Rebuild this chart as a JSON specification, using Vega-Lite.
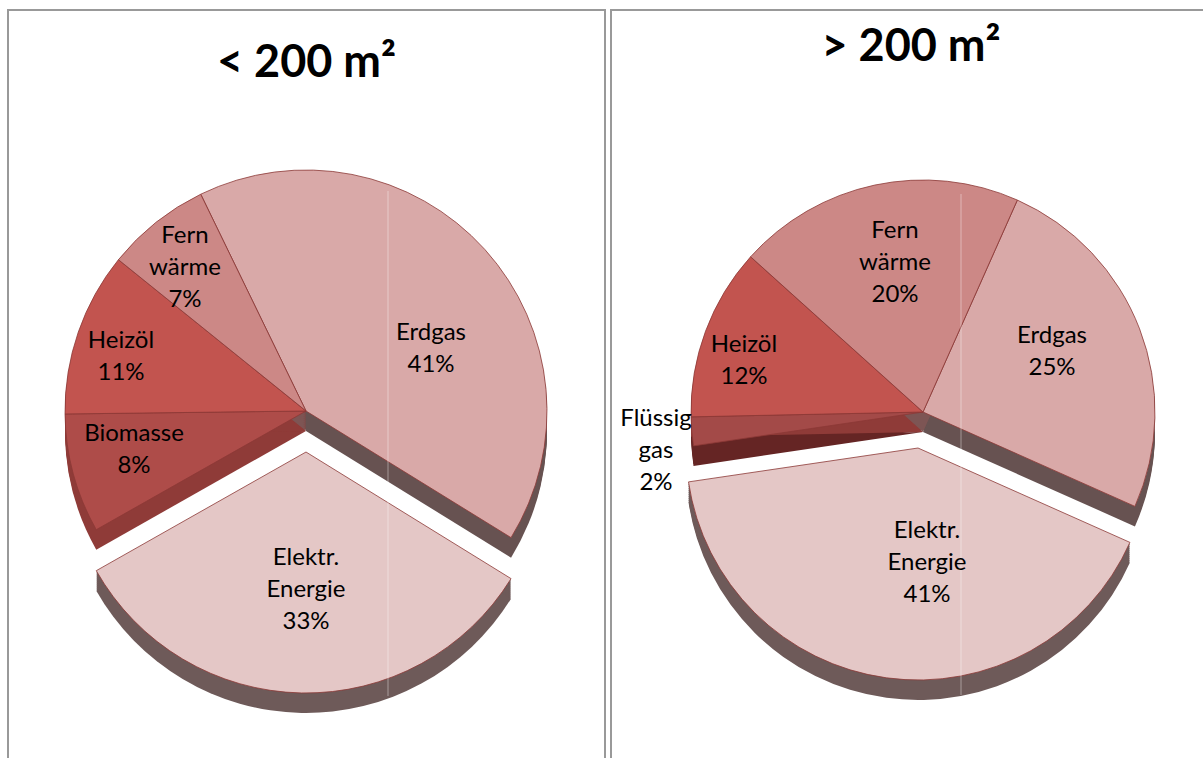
{
  "$schema": "https://vega.github.io/schema/vega-lite/v6.json",
  "padding": {"left": 7, "top": 9, "right": 0, "bottom": 0},
  "background": "white",
  "spacing": 4,
  "config": {"view": {"stroke": "#999999", "strokeWidth": 2}},
  "resolve": {"scale": {"color": "independent", "fill": "independent"}},
  "hconcat": [
    {
      "width": 597,
      "height": 760,
      "title": {"text": "< 200 m²", "font": "Lato", "fontWeight": "bold", "fontSize": 45, "color": "black", "anchor": "middle", "frame": "group", "offset": -76},
      "data": {"values": [
        {"order": 1, "name": "Erdgas", "caption": "Erdgas", "value": 41, "shiftX": 0, "shiftY": 0},
        {"order": 2, "name": "Elektr. Energie", "caption": "Elektr.\nEnergie", "value": 33, "shiftX": 0, "shiftY": 41},
        {"order": 3, "name": "Biomasse", "caption": "Biomasse", "value": 8, "shiftX": 0, "shiftY": 0},
        {"order": 4, "name": "Heizöl", "caption": "Heizöl", "value": 11, "shiftX": 0, "shiftY": 0},
        {"order": 5, "name": "Fernwärme", "caption": "Fern\nwärme", "value": 7, "shiftX": 0, "shiftY": 0}
      ]},
      "transform": [
        {"stack": "value", "sort": [{"field": "order", "order": "ascending"}], "as": ["t0", "t1"]},
        {"calculate": "datum.caption + '\\n' + datum.value + '%'", "as": "labelText"},
        {"calculate": "{'Erdgas': 125, 'Elektr. Energie': 0, 'Biomasse': -172, 'Heizöl': -185, 'Fernwärme': -121}[datum.name]", "as": "labelX"},
        {"calculate": "{'Erdgas': -78, 'Elektr. Energie': 147, 'Biomasse': 23, 'Heizöl': -70, 'Fernwärme': -175}[datum.name]", "as": "labelY"}
      ],
      "layer": [
        {
          "transform": [
            {"filter": "datum.shiftY == 0"},
            {"calculate": "[2, 4, 6, 8, 10, 12, 14, 16, 18, 20]", "as": "wall"},
            {"flatten": ["wall"]},
            {"calculate": "datum.shiftY + datum.wall", "as": "wallY"}
          ],
          "mark": {"type": "arc", "outerRadius": 241, "innerRadius": 0},
          "encoding": {
            "x": {"field": "shiftX", "type": "quantitative", "axis": null, "scale": {"domain": [-298, 299], "nice": false, "zero": false}},
            "y": {"field": "wallY", "type": "quantitative", "axis": null, "scale": {"domain": [-401, 359], "nice": false, "zero": false, "reverse": true}},
            "theta": {"field": "t0", "type": "quantitative", "scale": {"domain": [0, 100], "range": [-0.452, 5.831]}},
            "theta2": {"field": "t1"},
            "color": {"field": "name", "type": "nominal", "legend": null, "scale": {"domain": ["Erdgas", "Elektr. Energie", "Biomasse", "Heizöl", "Fernwärme"], "range": ["#675251", "#6e5a59", "#8f3b38", "#8f3b38", "#7d5554"]}},
            "detail": {"field": "wall", "type": "nominal"}
          }
        },
        {
          "transform": [{"filter": "datum.shiftY == 0"}],
          "mark": {"type": "arc", "outerRadius": 241, "innerRadius": 0, "stroke": "#8c3836", "strokeWidth": 0.8},
          "encoding": {
            "x": {"field": "shiftX", "type": "quantitative"},
            "y": {"field": "shiftY", "type": "quantitative"},
            "theta": {"field": "t0", "type": "quantitative"},
            "theta2": {"field": "t1"},
            "fill": {"field": "name", "type": "nominal", "legend": null, "scale": {"domain": ["Erdgas", "Elektr. Energie", "Biomasse", "Heizöl", "Fernwärme"], "range": ["#d9a9a8", "#e4c7c6", "#ae4c49", "#c2544f", "#cc8886"]}}
          }
        },
        {
          "transform": [
            {"filter": "datum.shiftY != 0"},
            {"calculate": "[2, 4, 6, 8, 10, 12, 14, 16, 18, 20]", "as": "wall"},
            {"flatten": ["wall"]},
            {"calculate": "datum.shiftY + datum.wall", "as": "wallY"}
          ],
          "mark": {"type": "arc", "outerRadius": 241, "innerRadius": 0},
          "encoding": {
            "x": {"field": "shiftX", "type": "quantitative"},
            "y": {"field": "wallY", "type": "quantitative"},
            "theta": {"field": "t0", "type": "quantitative"},
            "theta2": {"field": "t1"},
            "color": {"field": "name", "type": "nominal", "legend": null},
            "detail": {"field": "wall", "type": "nominal"}
          }
        },
        {
          "transform": [{"filter": "datum.shiftY != 0"}],
          "mark": {"type": "arc", "outerRadius": 241, "innerRadius": 0, "stroke": "#8c3836", "strokeWidth": 0.8},
          "encoding": {
            "x": {"field": "shiftX", "type": "quantitative"},
            "y": {"field": "shiftY", "type": "quantitative"},
            "theta": {"field": "t0", "type": "quantitative"},
            "theta2": {"field": "t1"},
            "fill": {"field": "name", "type": "nominal", "legend": null}
          }
        },
        {
          "data": {"values": [{}]},
          "mark": {"type": "rule", "color": "white", "opacity": 0.4, "strokeWidth": 1},
          "encoding": {
            "x": {"datum": 82, "type": "quantitative"},
            "y": {"datum": -220, "type": "quantitative"},
            "y2": {"datum": 285}
          }
        },
        {
          "mark": {"type": "text", "font": "Lato", "fontSize": 24, "lineHeight": 32, "lineBreak": "\n", "color": "black", "align": "center", "baseline": "middle"},
          "encoding": {
            "x": {"field": "labelX", "type": "quantitative"},
            "y": {"field": "labelY", "type": "quantitative"},
            "text": {"field": "labelText", "type": "nominal"}
          }
        }
      ]
    },
    {
      "width": 600,
      "height": 760,
      "title": {"text": "> 200 m²", "font": "Lato", "fontWeight": "bold", "fontSize": 45, "color": "black", "anchor": "middle", "frame": "group", "offset": -60},
      "data": {"values": [
        {"order": 1, "name": "Erdgas", "caption": "Erdgas", "value": 25, "shiftX": 0, "shiftY": 0},
        {"order": 2, "name": "Elektr. Energie", "caption": "Elektr.\nEnergie", "value": 41, "shiftX": -5, "shiftY": 36},
        {"order": 3, "name": "Flüssiggas", "caption": "Flüssig\ngas", "value": 2, "shiftX": 0, "shiftY": 0},
        {"order": 4, "name": "Heizöl", "caption": "Heizöl", "value": 12, "shiftX": 0, "shiftY": 0},
        {"order": 5, "name": "Fernwärme", "caption": "Fern\nwärme", "value": 20, "shiftX": 0, "shiftY": 0}
      ]},
      "transform": [
        {"stack": "value", "sort": [{"field": "order", "order": "ascending"}], "as": ["t0", "t1"]},
        {"calculate": "datum.caption + '\\n' + datum.value + '%'", "as": "labelText"},
        {"calculate": "{'Erdgas': 129, 'Elektr. Energie': 4, 'Flüssiggas': -267, 'Heizöl': -179, 'Fernwärme': -28}[datum.name]", "as": "labelX"},
        {"calculate": "{'Erdgas': -76, 'Elektr. Energie': 119, 'Flüssiggas': 7, 'Heizöl': -67, 'Fernwärme': -181}[datum.name]", "as": "labelY"}
      ],
      "layer": [
        {
          "transform": [
            {"filter": "datum.shiftY == 0"},
            {"calculate": "[2, 4, 6, 8, 10, 12, 14, 16, 18, 20]", "as": "wall"},
            {"flatten": ["wall"]},
            {"calculate": "datum.shiftY + datum.wall", "as": "wallY"}
          ],
          "mark": {"type": "arc", "outerRadius": 232, "innerRadius": 0},
          "encoding": {
            "x": {"field": "shiftX", "type": "quantitative", "axis": null, "scale": {"domain": [-312, 288], "nice": false, "zero": false}},
            "y": {"field": "wallY", "type": "quantitative", "axis": null, "scale": {"domain": [-402, 358], "nice": false, "zero": false, "reverse": true}},
            "theta": {"field": "t0", "type": "quantitative", "scale": {"domain": [0, 100], "range": [0.419, 6.702]}},
            "theta2": {"field": "t1"},
            "color": {"field": "name", "type": "nominal", "legend": null, "scale": {"domain": ["Erdgas", "Elektr. Energie", "Flüssiggas", "Heizöl", "Fernwärme"], "range": ["#675251", "#6e5a59", "#652524", "#8f3b38", "#7d5554"]}},
            "detail": {"field": "wall", "type": "nominal"}
          }
        },
        {
          "transform": [{"filter": "datum.shiftY == 0"}],
          "mark": {"type": "arc", "outerRadius": 232, "innerRadius": 0, "stroke": "#8c3836", "strokeWidth": 0.8},
          "encoding": {
            "x": {"field": "shiftX", "type": "quantitative"},
            "y": {"field": "shiftY", "type": "quantitative"},
            "theta": {"field": "t0", "type": "quantitative"},
            "theta2": {"field": "t1"},
            "fill": {"field": "name", "type": "nominal", "legend": null, "scale": {"domain": ["Erdgas", "Elektr. Energie", "Flüssiggas", "Heizöl", "Fernwärme"], "range": ["#d9a9a8", "#e4c7c6", "#a34a48", "#c2544f", "#cc8886"]}}
          }
        },
        {
          "transform": [
            {"filter": "datum.shiftY != 0"},
            {"calculate": "[2, 4, 6, 8, 10, 12, 14, 16, 18, 20]", "as": "wall"},
            {"flatten": ["wall"]},
            {"calculate": "datum.shiftY + datum.wall", "as": "wallY"}
          ],
          "mark": {"type": "arc", "outerRadius": 232, "innerRadius": 0},
          "encoding": {
            "x": {"field": "shiftX", "type": "quantitative"},
            "y": {"field": "wallY", "type": "quantitative"},
            "theta": {"field": "t0", "type": "quantitative"},
            "theta2": {"field": "t1"},
            "color": {"field": "name", "type": "nominal", "legend": null},
            "detail": {"field": "wall", "type": "nominal"}
          }
        },
        {
          "transform": [{"filter": "datum.shiftY != 0"}],
          "mark": {"type": "arc", "outerRadius": 232, "innerRadius": 0, "stroke": "#8c3836", "strokeWidth": 0.8},
          "encoding": {
            "x": {"field": "shiftX", "type": "quantitative"},
            "y": {"field": "shiftY", "type": "quantitative"},
            "theta": {"field": "t0", "type": "quantitative"},
            "theta2": {"field": "t1"},
            "fill": {"field": "name", "type": "nominal", "legend": null}
          }
        },
        {
          "data": {"values": [{}]},
          "mark": {"type": "rule", "color": "white", "opacity": 0.4, "strokeWidth": 1},
          "encoding": {
            "x": {"datum": 38, "type": "quantitative"},
            "y": {"datum": -218, "type": "quantitative"},
            "y2": {"datum": 283}
          }
        },
        {
          "mark": {"type": "text", "font": "Lato", "fontSize": 24, "lineHeight": 32, "lineBreak": "\n", "color": "black", "align": "center", "baseline": "middle"},
          "encoding": {
            "x": {"field": "labelX", "type": "quantitative"},
            "y": {"field": "labelY", "type": "quantitative"},
            "text": {"field": "labelText", "type": "nominal"}
          }
        }
      ]
    }
  ]
}
